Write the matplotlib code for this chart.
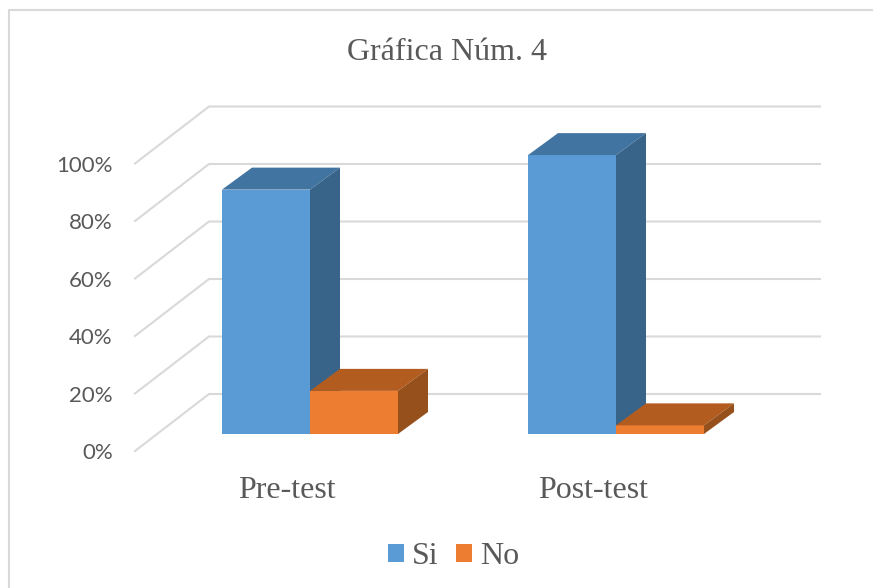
import matplotlib
matplotlib.use("Agg")
import matplotlib.pyplot as plt
from matplotlib.lines import Line2D

categories = ["Pre-test", "Post-test"]
si_values = [85, 97]
no_values = [15, 3]
y_ticks = [0, 20, 40, 60, 80, 100]

# pixel geometry of the fake 3d box, converted to data units below
PX_X = 306.0
PX_Y = 2.875
BAR_W = 88 / PX_X
DX = 30 / PX_X
DY = 22 / PX_Y
GRID = "#d9d9d9"
TEXT = "#595959"
SERIF = "Liberation Serif"


def draw_box(ax, x, h, front, top, side, label):
    ax.bar(x, h, width=BAR_W, align="edge", color=front, label=label, zorder=3)
    ax.fill([x, x + DX, x + BAR_W + DX, x + BAR_W], [h, h + DY, h + DY, h], color=top, lw=0, zorder=3)
    ax.fill([x + BAR_W, x + BAR_W + DX, x + BAR_W + DX, x + BAR_W], [0, DY, h + DY, h], color=side, lw=0, zorder=3)


fig = plt.figure(figsize=(8.73, 5.88), dpi=100)
ax = fig.add_axes([0, 0, 1, 1])
ax.set_xlim(-310 / PX_X, (873 - 310) / PX_X)
ax.set_ylim((434 - 588) / PX_Y, 434 / PX_Y)
ax.axis("off")

# gridlines: floor/side wall diagonal then back wall
x_front = (135 - 310) / PX_X
x_back = (209 - 310) / PX_X
x_end = (820 - 310) / PX_X
for t in y_ticks:
    y_front = t - 17 / PX_Y
    y_back = t + 40 / PX_Y
    ax.plot([x_front, x_back, x_end], [y_front, y_back, y_back], color=GRID, lw=1.5, zorder=1)
    ax.annotate(f"{t}%", (x_front, y_front), xytext=(-16, -1.5), textcoords="offset points",
                ha="right", va="center", fontsize=16, color=TEXT, family="Lato")

for i, cat in enumerate(categories):
    # Si draws first so the No box sits in front of its side wall
    draw_box(ax, i - BAR_W, si_values[i], "#5b9bd5", "#4274a1", "#376488", "Si" if i == 0 else None)
    draw_box(ax, i, no_values[i], "#ed7d31", "#b25c20", "#96501b", "No" if i == 0 else None)
    ax.text(i - 23 / PX_X, -57 / PX_Y, cat, ha="center", va="center", fontsize=23, color=TEXT, family=SERIF)

ax.text(137 / PX_X, (434 - 53) / PX_Y, "Gráfica Núm. 4", ha="center", va="center", fontsize=23,
        color=TEXT, family=SERIF)

ax.legend(loc="center", bbox_to_anchor=(453.5 / 873, 1 - 557 / 588), ncol=2, frameon=False,
          prop={"family": SERIF, "size": 23}, labelcolor=TEXT, handlelength=0.5, handleheight=0.5,
          handletextpad=0.25, columnspacing=0.55)

# chart frame: only the top and left edges are inside the crop
fig.add_artist(Line2D([9 / 873, 9 / 873, 1], [0, 1 - 10 / 588, 1 - 10 / 588], color=GRID, lw=1.5))

fig.savefig("out.png", dpi=100)
